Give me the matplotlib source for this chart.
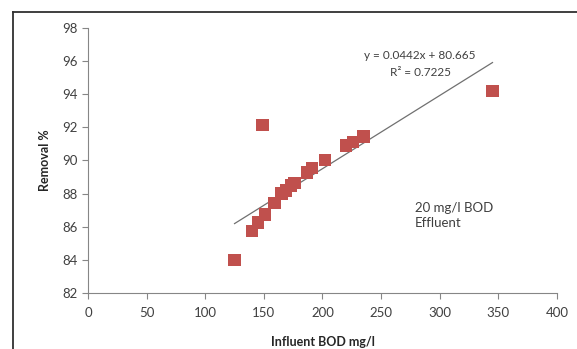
import numpy as np
import matplotlib.pyplot as plt
from matplotlib.lines import Line2D

# data
bod_in = [125, 140, 145, 151, 149, 159, 165, 169, 173, 176, 187, 191, 202, 220, 226, 235, 345]
removal = [84.0, 85.75, 86.25, 86.75, 92.15, 87.45, 88.0, 88.2, 88.5, 88.65, 89.27, 89.55, 90.02, 90.9, 91.1, 91.45, 94.2]
slope = 0.0442
intercept = 80.665
r2 = 0.7225
xticks = [0, 50, 100, 150, 200, 250, 300, 350, 400]
yticks = [82, 84, 86, 88, 90, 92, 94, 96, 98]

plt.rcParams['font.family'] = ['Lato', 'DejaVu Sans']
grey = '#868686'
txt = '#404040'

fig = plt.figure(figsize=(5.77, 3.49), dpi=100)
ax = fig.add_axes([0.1525, 0.1605, 0.8128, 0.7593])

ax.scatter(bod_in, removal, marker='s', s=80, color='#C0504D', edgecolors='none', zorder=3)

fit_x = np.array([min(bod_in), max(bod_in)])
ax.plot(fit_x, slope * fit_x + intercept, color='#707070', lw=0.9, zorder=2)

ax.text(283, 96.35, 'y = %.4fx + %.3f' % (slope, intercept), ha='center', va='center', fontsize=8.5, color=txt)
ax.text(284, 95.3, 'R² = %.4f' % r2, ha='center', va='center', fontsize=8.5, color=txt)
ax.text(279, 86.7, '20 mg/l BOD\nEffluent', ha='left', va='center', fontsize=9.5, color=txt, linespacing=1.3)

ax.set_xlim(0, 400)
ax.set_ylim(82, 98)
ax.set_xticks(xticks)
ax.set_yticks(yticks)
for s in ['top', 'right']:
    ax.spines[s].set_visible(False)
for s in ['left', 'bottom']:
    ax.spines[s].set_color(grey)
    ax.spines[s].set_linewidth(0.8)
ax.tick_params(colors=grey, length=4, width=0.8, labelcolor=txt, labelsize=9.5)
ax.tick_params(axis='x', pad=6)

ax.set_xlabel('Influent BOD mg/l', fontsize=9, fontweight='bold', color='#262626', labelpad=12)
ax.set_ylabel('Removal %', fontsize=9, fontweight='bold', color='#262626', labelpad=8)

# outer chart frame (cropped at right and bottom)
fx = 13 / 577
fy = 1 - 12 / 349
fig.add_artist(Line2D([fx, fx], [0, fy], transform=fig.transFigure, color='#303030', lw=1.3))
fig.add_artist(Line2D([fx, 1], [fy, fy], transform=fig.transFigure, color='#303030', lw=1.3))

fig.savefig('out.png', dpi=100)
